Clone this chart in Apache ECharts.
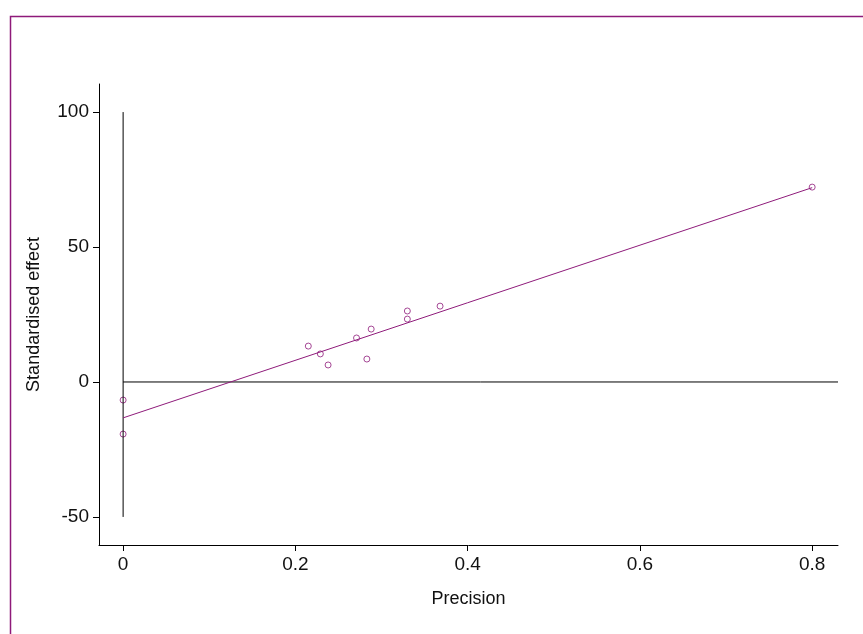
<!DOCTYPE html>
<html><head><meta charset="utf-8">
<script src="https://cdn.jsdelivr.net/npm/echarts@6/dist/echarts.min.js"></script>
<style>html,body{margin:0;padding:0;background:#fff}#main{width:863px;height:634px}</style>
</head><body><div id="main"></div>
<script>
// study points (precision, standardised effect)
var precision = [0, 0, 0.215, 0.229, 0.238, 0.271, 0.288, 0.283, 0.330, 0.330, 0.368, 0.800];
var effect = [-6.7, -19.3, 13.3, 10.4, 6.3, 16.3, 19.6, 8.5, 26.3, 23.3, 28.1, 72.2];
var fitLine = [[0, -13.3], [0.8, 72.0]];
var xTicks = [0, 0.2, 0.4, 0.6, 0.8];
var yTicks = [-50, 0, 50, 100];

var purple = '#8e1a7a';
var font = 'Liberation Sans, DejaVu Sans, sans-serif';
var pts = [];
for (var i = 0; i < precision.length; i++) pts.push([precision[i], effect[i]]);

var myChart = echarts.init(document.getElementById('main'));
var option = {
    animation: false,
    graphic: [{
        type: 'rect', left: 8, top: 14, z: 100,
        shape: {width: 862, height: 626},
        style: {fill: 'none', stroke: purple, lineWidth: 1.5}
    }],
    grid: {left: 99, right: 25, top: 84, bottom: 89},
    xAxis: {
        type: 'value', min: -0.028, max: 0.83,
        name: 'Precision', nameLocation: 'middle', nameGap: 45,
        nameTextStyle: {fontFamily: font, fontSize: 18, color: '#111'},
        splitLine: {show: false},
        axisLine: {onZero: false, lineStyle: {color: '#000'}},
        axisTick: {customValues: xTicks, length: 6, lineStyle: {color: '#000'}},
        axisLabel: {customValues: xTicks, fontFamily: font, fontSize: 19, color: '#111', margin: 10}
    },
    yAxis: {
        type: 'value', min: -60.4, max: 110.4,
        name: 'Standardised effect', nameLocation: 'middle', nameGap: 56,
        nameTextStyle: {fontFamily: font, fontSize: 18, color: '#111'},
        splitLine: {show: false},
        axisLine: {onZero: false, lineStyle: {color: '#000'}},
        axisTick: {customValues: yTicks, length: 6, lineStyle: {color: '#000'}},
        axisLabel: {customValues: yTicks, fontFamily: font, fontSize: 19, color: '#111', margin: 10}
    },
    series: [
        {
            type: 'line', data: [[0, -50], [0, 100]], symbol: 'none',
            lineStyle: {color: '#000', width: 1}, silent: true
        },
        {
            type: 'line', data: [[0, 0], [0.83, 0]], symbol: 'none',
            lineStyle: {color: '#000', width: 1}, silent: true
        },
        {
            type: 'line', data: fitLine, symbol: 'none',
            lineStyle: {color: purple, width: 1}
        },
        {
            type: 'scatter', data: pts, symbol: 'circle', symbolSize: 6,
            itemStyle: {color: '#fff', borderColor: purple, borderWidth: 1}
        }
    ]
};
myChart.setOption(option);
</script></body></html>
